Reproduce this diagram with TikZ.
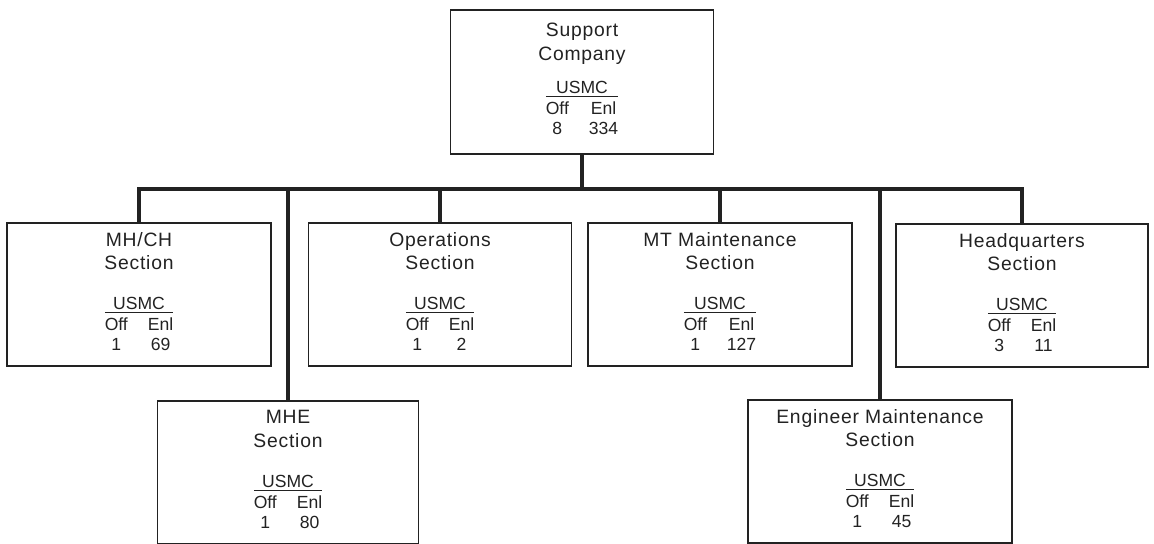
\documentclass[tikz,border=0pt]{standalone}
\usepackage{fontspec}
\setmainfont{Liberation Sans}
\newfontfamily\ttlfont{Liberation Sans}[LetterSpace=4]
\definecolor{inkgray}{HTML}{222222}

% strength table under each title
\newcommand{\usmc}[2]{{\normalfont\fontsize{10}{11.4}\selectfont
  \begin{tabular}[t]{@{}c@{\hspace{0.4cm}}c@{}}
    \multicolumn{2}{@{}c@{}}{USMC}\\[-2pt]\hline
    \rule{0pt}{10pt}Off & Enl\\
    #1 & #2
  \end{tabular}}}

\tikzset{
  unitbox/.style={draw=inkgray, text=inkgray, line width=0.9pt,
    minimum width=#1, minimum height=2.86cm, inner sep=0pt,
    anchor=north, align=center, font=\ttlfont\fontsize{11}{13.6}\selectfont},
  link/.style={draw=inkgray, line width=2.3pt}
}

\begin{document}
\begin{tikzpicture}[x=0.02cm,y=-0.02cm]
  \useasboundingbox (0,0) rectangle (1154,544);

  \node[unitbox=5.26cm, minimum height=2.88cm] (sc) at (582,9) {Support\\Company\\[5pt]\usmc{8}{334}};

  \node[unitbox=5.28cm] (mhch) at (139,222) {MH/CH\\Section\\[9pt]\usmc{1}{69}};
  \node[unitbox=5.26cm] (ops) at (440,222) {Operations\\Section\\[9pt]\usmc{1}{2}};
  \node[unitbox=5.28cm] (mtm) at (720,222) {MT Maintenance\\Section\\[9pt]\usmc{1}{127}};
  \node[unitbox=5.04cm] (hq) at (1022,223) {Headquarters\\Section\\[9pt]\usmc{3}{11}};

  \node[unitbox=5.22cm] (mhe) at (288,400) {MHE\\Section\\[9pt]\usmc{1}{80}};
  \node[unitbox=5.28cm] (eng) at (880,399) {Engineer Maintenance\\Section\\[9pt]\usmc{1}{45}};

  \coordinate (bar) at (582,189);
  \draw[link] (sc.south) -- (bar);
  \foreach \n in {mhch,mhe,ops,mtm,eng,hq}
    \draw[link] (\n.north) |- (bar);
\end{tikzpicture}
\end{document}
